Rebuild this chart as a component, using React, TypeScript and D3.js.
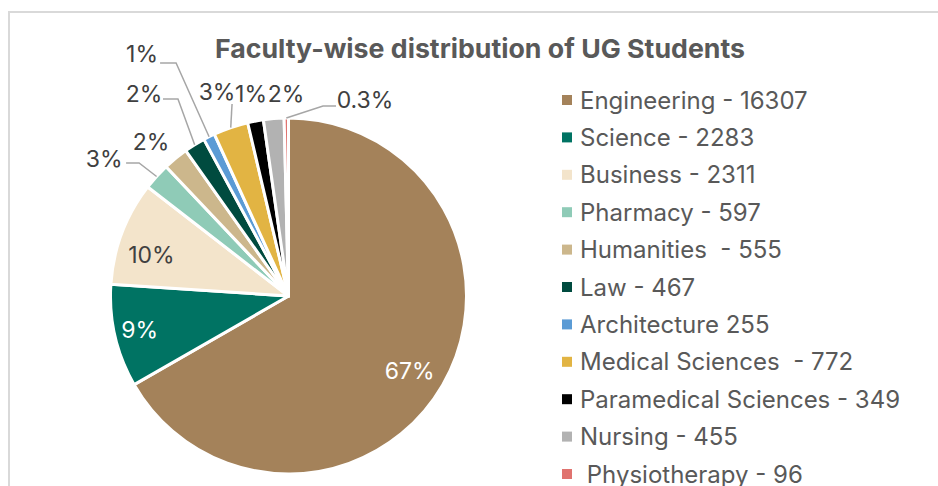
import React from "react";
import * as d3 from "d3";

const categories = [
  "Engineering", "Science", "Business", "Pharmacy", "Humanities", "Law",
  "Architecture", "Medical Sciences", "Paramedical Sciences", "Nursing", "Physiotherapy",
];
const students = [16307, 2283, 2311, 597, 555, 467, 255, 772, 349, 455, 96];
const legendLabels = [
  "Engineering - 16307", "Science - 2283", "Business - 2311", "Pharmacy - 597",
  "Humanities  - 555", "Law - 467", "Architecture 255", "Medical Sciences  - 772",
  "Paramedical Sciences - 349", "Nursing - 455", " Physiotherapy - 96",
];
const percentLabels = ["67%", "9%", "10%", "3%", "2%", "2%", "1%", "3%", "1%", "2%", "0.3%"];
const colors = [
  "#A4825A", "#007363", "#F3E4CB", "#8FCBB7", "#CCB78C", "#004B3F",
  "#5B9BD5", "#E2B443", "#000000", "#B2B2B2", "#E0736F",
];

// label placement (offsets relative to the slice's centroid / outer edge point)
type Layout = { inside?: boolean; fill?: string; dx?: number; dy?: number; leader?: number[][] };
const labelLayout: Layout[] = [
  { inside: true, fill: "#ffffff", dx: -2, dy: 3 },
  { inside: true, fill: "#ffffff", dx: -10, dy: 2 },
  { inside: true, fill: "#404040", dx: -4, dy: 9 },
  { dx: -52.5, dy: -17.5, leader: [[35, 4], [22, 4]] },
  { dx: -24.7, dy: -16.3 },
  { dx: -50.7, dy: -50.8, leader: [[34, 5], [19, 5]] },
  { dx: -67, dy: -82.7, leader: [[34, 9], [18, 9]] },
  { dx: -13.7, dy: -35.6, leader: [[15, 12]] },
  { dx: -4.5, dy: -27 },
  { dx: 12.3, dy: -24.6 },
  { dx: 78.7, dy: -18, leader: [[-42, 6], [-29, 6]] },
];

const W = 938, H = 486;
const cx = 288.5, cy = 296, R = 178;

export default function App() {
  const pie = d3.pie<number>().sort(null).value((d) => d)(students);
  const arc = d3.arc<d3.PieArcDatum<number>>().innerRadius(0).outerRadius(R);
  const labelArc = d3.arc<d3.PieArcDatum<number>>().innerRadius(R * 0.8).outerRadius(R * 0.8);
  const edgeArc = d3.arc<d3.PieArcDatum<number>>().innerRadius(R).outerRadius(R);
  const legendY = d3.scalePoint<number>().domain(d3.range(categories.length)).range([100, 474]);
  const font = "Inter, 'Noto Sans', sans-serif";

  return (
    <svg width={W} height={H} style={{ position: "absolute", left: 0, top: 0, background: "#fff" }}>
      <rect x={9} y={12} width={W + 20} height={H + 20} fill="#fff" stroke="#D9D9D9" strokeWidth={2} />
      <text x={480} y={58} textAnchor="middle" fontFamily={font} fontWeight={700} fontSize={26}
        fill="#595959" textLength={530} lengthAdjust="spacingAndGlyphs">
        Faculty-wise distribution of UG Students
      </text>
      <g transform={`translate(${cx},${cy})`}>
        {pie.map((p, i) => (
          <path key={i} d={arc(p) || ""} fill={colors[i]} stroke="#fff" strokeWidth={3} strokeLinejoin="round" />
        ))}
        {pie.map((p, i) => {
          const L = labelLayout[i];
          if (L.inside) {
            const [x, y] = labelArc.centroid(p);
            return (
              <text key={i} x={x + (L.dx || 0)} y={y + (L.dy || 0)} dy="0.36em" textAnchor="middle"
                fontFamily={font} fontSize={23} fill={L.fill}>
                {percentLabels[i]}
              </text>
            );
          }
          const [ex, ey] = edgeArc.centroid(p);
          const lx = ex + (L.dx || 0), ly = ey + (L.dy || 0);
          const pts: [number, number][] = [[ex, ey]];
          (L.leader || []).forEach(([ox, oy]) => pts.push([lx + ox, ly + oy]));
          return (
            <g key={i}>
              {L.leader && (
                <path d={d3.line()(pts) || ""} fill="none" stroke="#A6A6A6" strokeWidth={1.5} />
              )}
              <text x={lx} y={ly} dy="0.36em" textAnchor="middle" fontFamily={font} fontSize={23} fill="#404040">
                {percentLabels[i]}
              </text>
            </g>
          );
        })}
      </g>
      <g>
        {categories.map((c, i) => (
          <g key={c} transform={`translate(0,${legendY(i)})`}>
            <rect x={562} y={-5} width={10} height={10} fill={colors[i]} />
            <text x={580} y={0} dy="0.36em" fontFamily={font} fontSize={24} fill="#595959" style={{ whiteSpace: "pre" }}>
              {legendLabels[i]}
            </text>
          </g>
        ))}
      </g>
    </svg>
  );
}
